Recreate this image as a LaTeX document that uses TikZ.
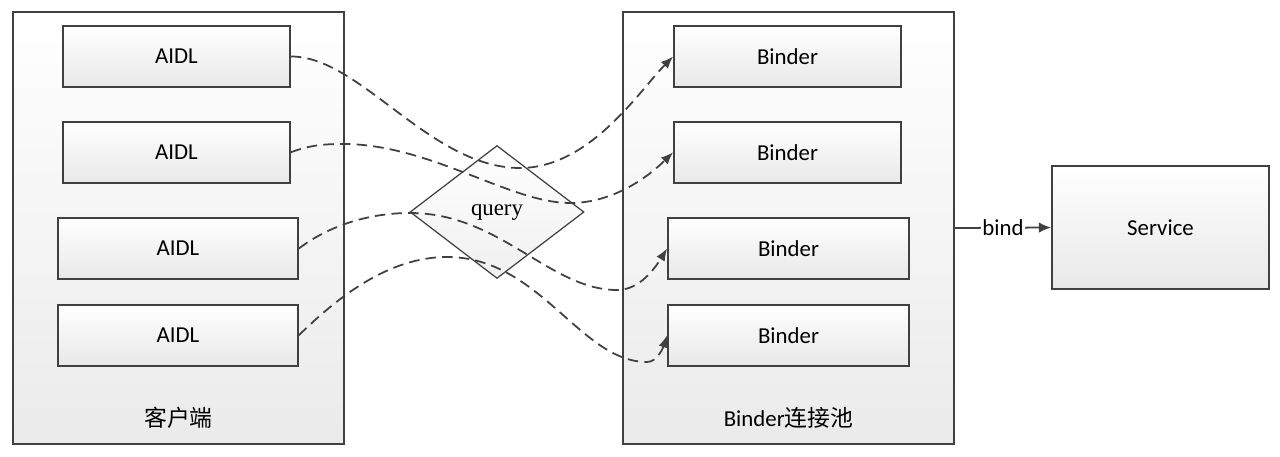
\documentclass[tikz,border=0pt]{standalone}
\usepackage{fontspec}
\setmainfont{Carlito}
\newfontfamily\cjk{Noto Sans CJK SC}
\newfontfamily\queryfont{Liberation Serif}
\usetikzlibrary{positioning,shapes.geometric,arrows.meta}
\definecolor{linegray}{HTML}{404040}

\begin{document}
\begin{tikzpicture}[x=0.02cm, y=-0.02cm, node distance=0.66cm,
	txt/.style={font=\fontsize{13}{15}\selectfont},
	box/.style={txt, draw=linegray, line width=1pt, top color=white, bottom color=black!9, minimum width=4.54cm, minimum height=1.22cm},
	pool/.style={draw=linegray, line width=1pt, top color=white, bottom color=black!8, minimum width=6.62cm, minimum height=8.64cm},
	call/.style={draw=linegray, line width=1pt, dash pattern=on 6pt off 3.5pt, -{Latex[length=7pt,width=5.5pt]}}]
		\useasboundingbox (0,0) rectangle (1280,456);

		% client side
		\node[pool] (client) at (178.5,228) {};
		\node[txt, above=0.2cm of client.south] (client_label) {\cjk 客户端};
		\node[box] (aidl1) at (176.5,56.5) {AIDL};
		\node[box, below=of aidl1] (aidl2) {AIDL};
		\node[box, minimum width=4.8cm] (aidl3) at (178,248.5) {AIDL};
		\node[box, minimum width=4.8cm, below=0.48cm of aidl3] (aidl4) {AIDL};

		% binder pool
		\node[pool] (binderpool) at (788.5,228) {};
		\node[txt, above=0.2cm of binderpool.south] (binderpool_label) {Binder\cjk 连接池};
		\node[box] (binder1) at (787.5,56.5) {Binder};
		\node[box, below=of binder1] (binder2) {Binder};
		\node[box, minimum width=4.82cm] (binder3) at (788.5,248.5) {Binder};
		\node[box, minimum width=4.82cm, below=0.48cm of binder3] (binder4) {Binder};

		\node[box, minimum width=4.34cm, minimum height=2.46cm] (service) at (1160.5,227.5) {Service};

		\node[diamond, draw=linegray, line width=0.7pt, top color=white, bottom color=black!6, minimum width=3.48cm, minimum height=2.66cm, inner sep=0pt, font=\queryfont\fontsize{13}{15}\selectfont] (query) at (497,212) {query};

		% lookups through query
		\draw[call] (aidl1.east) .. controls (360,56) and (430,168) .. (520,168) .. controls (590,168) and (640,90) .. (binder1.west);
		\draw[call] (aidl2.east) .. controls (310,145) and (325,144) .. (343,144) .. controls (430,144) and (510,203) .. (570,203) .. controls (615,203) and (650,175) .. (binder2.west);
		\draw[call] (aidl3.east) .. controls (330,225) and (370,213) .. (410,213) .. controls (500,213) and (550,290) .. (617,290) .. controls (640,290) and (655,268) .. (binder3.west);
		\draw[call] (aidl4.east) .. controls (340,295) and (390,257) .. (447,257) .. controls (540,257) and (580,362) .. (647,362) .. controls (657,362) and (663,348) .. (binder4.west);

		\draw[draw=linegray, line width=1pt, -{Latex[length=7pt,width=6pt]}] (binderpool.east) -- node[txt, fill=white, inner sep=1pt] {bind} (service.west);
	\end{tikzpicture}
\end{document}
